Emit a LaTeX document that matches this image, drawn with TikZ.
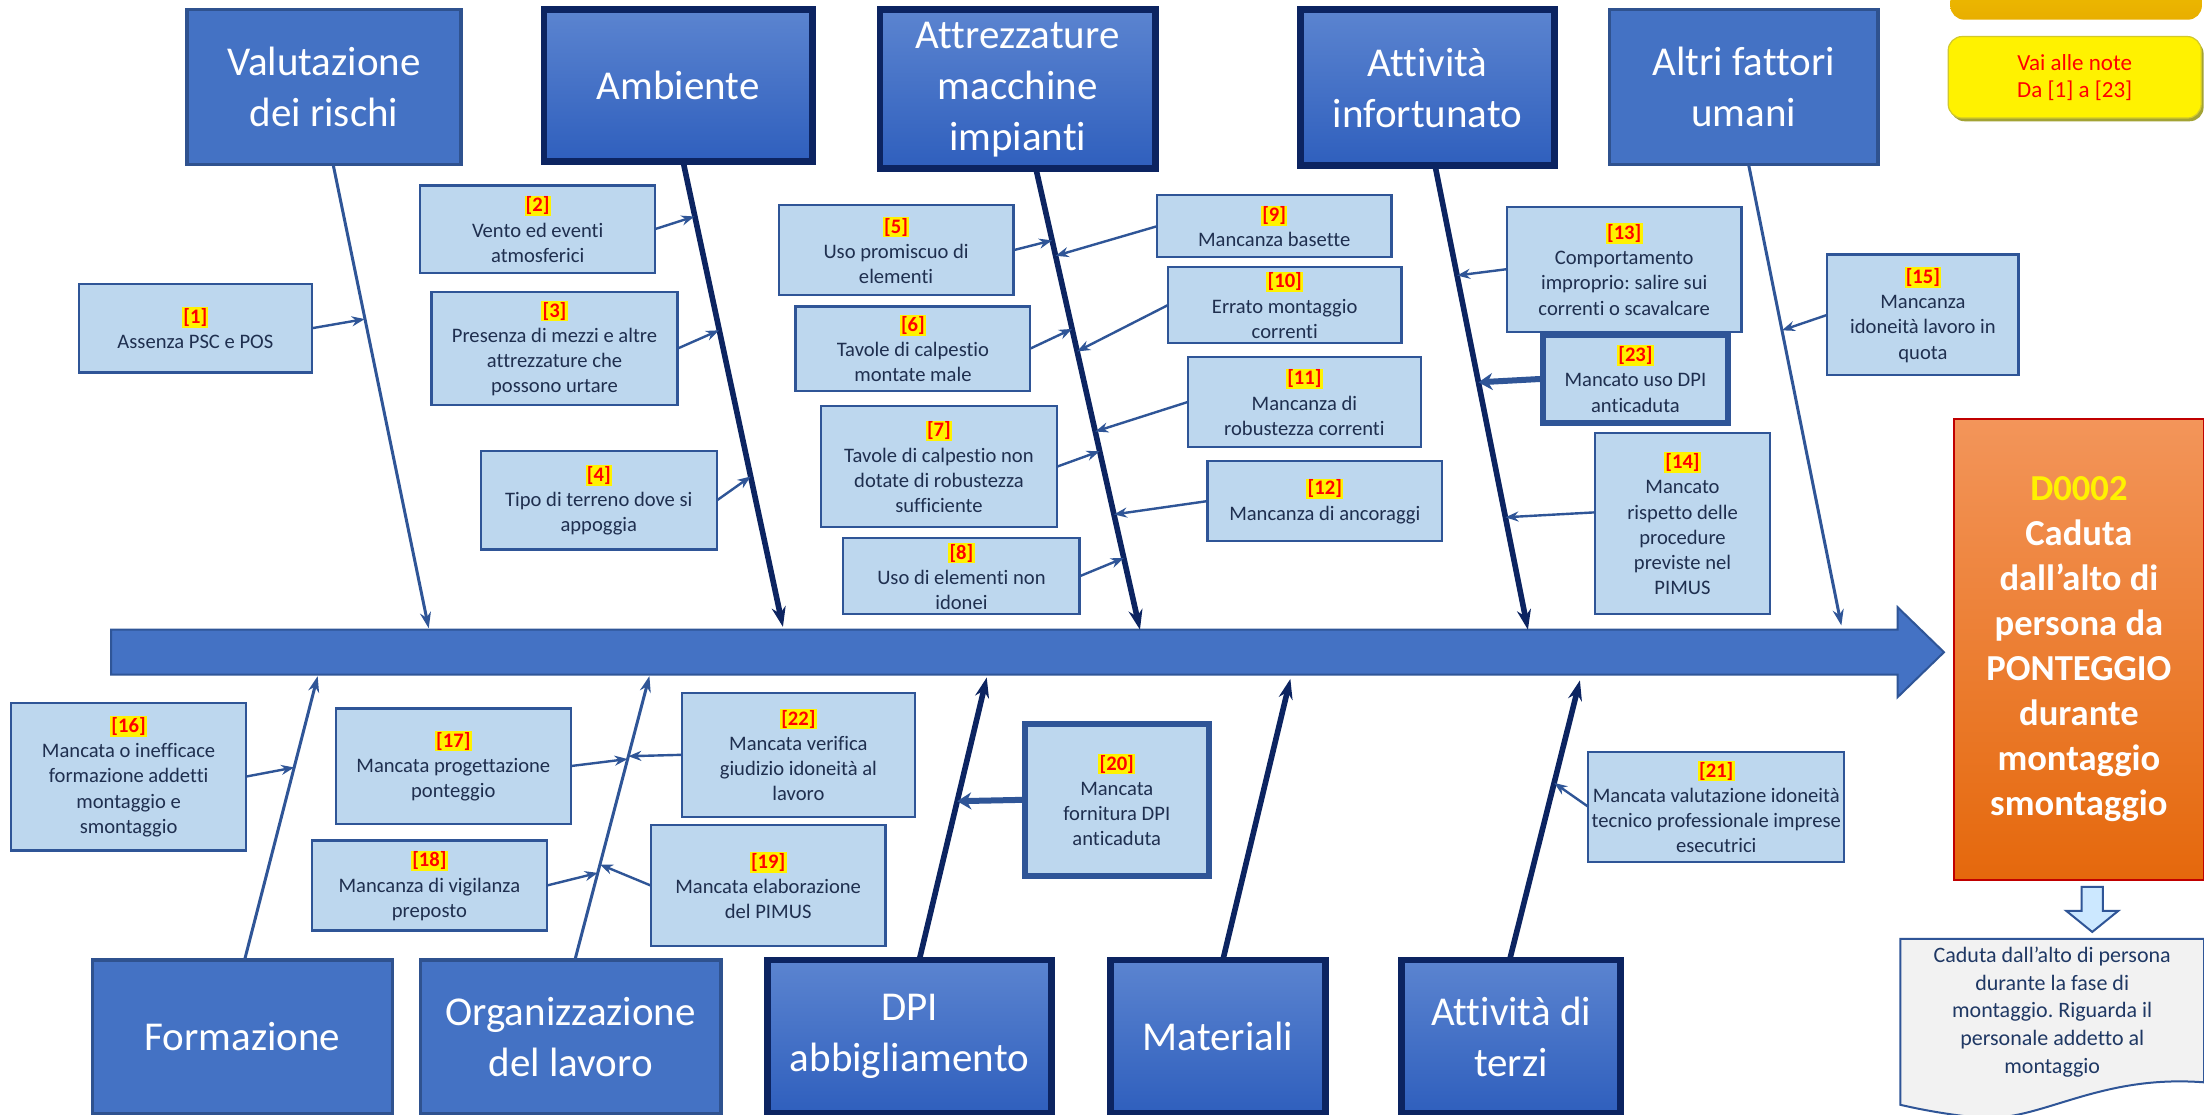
\documentclass[tikz,border=0pt]{standalone}
\usepackage{fontspec}
\setmainfont{Carlito}[Ligatures=NoCommon]
\frenchspacing
\usetikzlibrary{arrows.meta,calc,shadows}

\definecolor{catfill}{HTML}{4472C4}
\definecolor{catdraw}{HTML}{2F528F}
\definecolor{navy}{HTML}{0C2461}
\definecolor{gradtop}{HTML}{5B84D0}
\definecolor{gradbot}{HTML}{2F5FBD}
\definecolor{cfill}{HTML}{BDD7EE}
\definecolor{cdraw}{HTML}{2F5597}
\definecolor{ctext}{HTML}{1F2F4F}
\definecolor{orgtop}{HTML}{F3955A}
\definecolor{orgbot}{HTML}{E5680C}
\definecolor{orgdraw}{HTML}{C00000}
\definecolor{docfill}{HTML}{F2F2F2}
\definecolor{doctext}{HTML}{1F3864}
\definecolor{arrfill}{HTML}{CCE8FF}
\definecolor{goldtop}{HTML}{F2C300}
\definecolor{goldbot}{HTML}{E8AE00}
\definecolor{btnshadow}{HTML}{8C8C00}

\tikzset{
 cat/.style={draw=catdraw, line width=1.6pt, fill=catfill, text=white, align=center,
   inner sep=0pt, outer sep=0pt, font=\fontsize{20.5}{25.5}\selectfont},
 catstrong/.style={cat, draw=navy, line width=3.4pt, top color=gradtop, bottom color=gradbot},
 cause/.style={draw=cdraw, line width=1.1pt, fill=cfill, text=ctext, align=center,
   inner sep=0pt, outer sep=0pt, font=\fontsize{10.3}{12.6}\selectfont},
 causestrong/.style={cause, line width=3pt},
 bonethin/.style={draw=cdraw, line width=1.5pt, -{Stealth[length=8pt,width=5.5pt]}},
 bonethick/.style={draw=navy, line width=2.8pt, -{Stealth[length=10pt,width=7pt]}},
 carrow/.style={draw=cdraw, line width=1.2pt, -{Stealth[length=6.5pt,width=5pt]}},
 carrowthick/.style={draw=cdraw, line width=3pt, -{Stealth[length=7pt,width=8.5pt]}},
}

\newcommand{\mycat}[7][cat]{\node[#1,minimum width={(#5-#3)*0.7028pt},minimum height={(#6-#4)*0.7028pt}] (#2) at ({(#3+#5)/2},{(#4+#6)/2}) {#7};}
\newcommand{\mycause}[7][cause]{\node[#1,minimum width={(#5-#3)*0.7028pt},minimum height={(#6-#4)*0.7028pt}] (#2) at ({(#3+#5)/2},{(#4+#6)/2}) {#7};}
\newcommand{\lab}[1]{{\setlength{\fboxsep}{0.6pt}\colorbox{yellow}{\textcolor{red}{\bfseries[#1]}}}}

\begin{document}
\begin{tikzpicture}[x=0.7028pt,y=-0.7028pt]
\useasboundingbox (0,0) rectangle (1568,793);
\fill[white] (0,0) rectangle (1568,793);

% spine
\draw[draw=cdraw, line width=1pt, fill=catfill] (79,448) -- (1350,448) -- (1350,432) -- (1383,464) -- (1350,496) -- (1350,480) -- (79,480) -- cycle;

% category boxes
\mycat[cat]{vr}{133}{7}{328}{117}{Valutazione\\dei rischi}
\mycat[catstrong]{amb}{387}{7}{578}{115}{Ambiente}
\mycat[catstrong]{att}{626}{7}{822}{120}{Attrezzature\\macchine\\impianti}
\mycat[catstrong]{ain}{925}{7}{1106}{118}{Attività\\infortunato}
\mycat[cat]{alt}{1145}{7}{1336}{117}{Altri fattori\\umani}
\mycat[cat]{for}{66}{683}{279}{792}{Formazione}
\mycat[cat]{org}{299}{683}{513}{792}{Organizzazione\\del lavoro}
\mycat[catstrong]{dpi}{546}{683}{748}{792}{DPI\\abbigliamento}
\mycat[catstrong]{mat}{790}{683}{943}{792}{Materiali}
\mycat[catstrong]{ter}{997}{683}{1153}{792}{Attività di\\terzi}

% bone end points on the spine
\coordinate (e1) at (305,447);
\coordinate (e2) at (557,446);
\coordinate (e3) at (811,448);
\coordinate (e4) at (1087,448);
\coordinate (e5) at (1310,445);
\coordinate (e6) at (226,481);
\coordinate (e7) at (462,481);
\coordinate (e8) at (702,482);
\coordinate (e9) at (918,483);
\coordinate (e10) at (1124,484);

% bones
\draw[bonethin] ($(vr.south)+(6.5,0)$) -- (e1);
\draw[bonethick] ($(amb.south)+(3.5,0)$) -- (e2);
\draw[bonethick] ($(att.south)+(13,0)$) -- (e3);
\draw[bonethick] ($(ain.south)+(5.5,0)$) -- (e4);
\draw[bonethin] ($(alt.south)+(3.5,0)$) -- (e5);
\draw[bonethin] ($(for.north)+(1.5,0)$) -- (e6);
\draw[bonethin] ($(org.north)+(3,0)$) -- (e7);
\draw[bonethick] ($(dpi.north)+(7,0)$) -- (e8);
\draw[bonethick] ($(mat.north)+(3.5,0)$) -- (e9);
\draw[bonethick] ($(ter.north)+(-1,0)$) -- (e10);

% cause boxes
\mycause{c1}{56}{202}{222}{265}{\lab{1}\\Assenza PSC e POS}
\mycause{c2}{299}{132}{466}{194}{\lab{2}\\Vento ed eventi\\atmosferici}
\mycause{c3}{307}{208}{482}{288}{\lab{3}\\Presenza di mezzi e altre\\attrezzature che\\possono urtare}
\mycause{c4}{342}{321}{510}{391}{\lab{4}\\Tipo di terreno dove si\\appoggia}
\mycause{c5}{554}{146}{721}{210}{\lab{5}\\Uso promiscuo di\\elementi}
\mycause{c6}{566}{218}{733}{278}{\lab{6}\\Tavole di calpestio\\montate male}
\mycause{c7}{584}{289}{752}{375}{\lab{7}\\Tavole di calpestio non\\dotate di robustezza\\sufficiente}
\mycause{c8}{600}{383}{768}{437}{\lab{8}\\Uso di elementi non\\idonei}
\mycause{c9}{823}{139}{990}{183}{\lab{9}\\Mancanza basette}
\mycause{c10}{831}{190}{997}{244}{\lab{10}\\Errato montaggio\\correnti}
\mycause{c11}{845}{254}{1011}{318}{\lab{11}\\Mancanza di\\robustezza correnti}
\mycause{c12}{859}{328}{1026}{385}{\lab{12}\\Mancanza di ancoraggi}
\mycause{c13}{1072}{147}{1239}{236}{\lab{13}\\Comportamento\\improprio: salire sui\\correnti o scavalcare}
\mycause[causestrong]{c23}{1098}{238}{1229}{301}{\lab{23}\\Mancato uso DPI\\anticaduta}
\mycause{c14}{1135}{308}{1259}{437}{\lab{14}\\Mancato\\rispetto delle\\procedure\\previste nel\\PIMUS}
\mycause{c15}{1300}{181}{1436}{267}{\lab{15}\\Mancanza\\idoneità lavoro in\\quota}
\mycause{c16}{8}{500}{175}{605}{\lab{16}\\Mancata o inefficace\\formazione addetti\\montaggio e\\smontaggio}
\mycause{c17}{239}{504}{406}{586}{\lab{17}\\Mancata progettazione\\ponteggio}
\mycause{c22}{485}{493}{651}{581}{\lab{22}\\Mancata verifica\\giudizio idoneità al\\lavoro}
\mycause{c18}{222}{598}{389}{662}{\lab{18}\\Mancanza di vigilanza\\preposto}
\mycause{c19}{463}{587}{630}{673}{\lab{19}\\Mancata elaborazione\\del PIMUS}
\mycause[causestrong]{c20}{729}{515}{860}{623}{\lab{20}\\Mancata\\fornitura DPI\\anticaduta}
\mycause{c21}{1130}{535}{1312}{613}{\lab{21}\\Mancata valutazione idoneità\\tecnico professionale imprese\\esecutrici}

% arrow tips on the bones
\coordinate (t1) at (259.5,227);
\coordinate (t2) at (494,154);
\coordinate (t3) at (511.5,235);
\coordinate (t4) at (534,339);
\coordinate (t5) at (748.5,171);
\coordinate (t6) at (762.7,234);
\coordinate (t7) at (782.3,321);
\coordinate (t8) at (799.5,397);
\coordinate (t9) at (751,182);
\coordinate (t10) at (766.3,250);
\coordinate (t11) at (779.2,307);
\coordinate (t12) at (792.5,366);
\coordinate (t13) at (1036.6,196);
\coordinate (t23) at (1051.8,272);
\coordinate (t14) at (1071,368);
\coordinate (t15) at (1267.7,235);
\coordinate (t16) at (209.3,546);
\coordinate (t17) at (446.5,540);
\coordinate (t22) at (447,538);
\coordinate (t18) at (425.3,621);
\coordinate (t19) at (426.8,615);
\coordinate (t20) at (681,570);
\coordinate (t21) at (1105.7,557);

\draw[carrow] (c1.east) -- (t1);
\draw[carrow] (c2.east) -- (t2);
\draw[carrow] (c3.east) -- (t3);
\draw[carrow] (c4.east) -- (t4);
\draw[carrow] (c5.east) -- (t5);
\draw[carrow] (c6.east) -- (t6);
\draw[carrow] (c7.east) -- (t7);
\draw[carrow] (c8.east) -- (t8);
\draw[carrow] (c9.west) -- (t9);
\draw[carrow] (c10.west) -- (t10);
\draw[carrow] (c11.west) -- (t11);
\draw[carrow] (c12.west) -- (t12);
\draw[carrow] (c13.west) -- (t13);
\draw[carrowthick] (c23.west) -- (t23);
\draw[carrow] ($(c14.west)+(0,-8)$) -- (t14);
\draw[carrow] (c15.west) -- (t15);
\draw[carrow] (c16.east) -- (t16);
\draw[carrow] (c17.east) -- (t17);
\draw[carrow] (c22.west) -- (t22);
\draw[carrow] (c18.east) -- (t18);
\draw[carrow] (c19.west) -- (t19);
\draw[carrowthick] (c20.west) -- (t20);
\draw[carrow] (c21.west) -- (t21);

% effect box
\node[draw=orgdraw, line width=1pt, top color=orgtop, bottom color=orgbot,
  minimum width={178*0.7028pt}, minimum height={328*0.7028pt}, inner sep=0pt,
  text=white, align=center, font=\bfseries\fontsize{18.3}{22.5}\selectfont] (eff) at (1479,462)
  {\textcolor{yellow}{D0002}\\Caduta\\dall’alto di\\persona da\\PONTEGGIO\\durante\\montaggio\\smontaggio};

% small block arrow
\draw[draw=cdraw, line width=1pt, fill=arrfill, line join=miter] (1481,631) -- (1496,631) -- (1496,648) -- (1507,648) -- (1488.5,663) -- (1470,648) -- (1481,648) -- cycle;

% document shape
\draw[draw=cdraw, line width=1pt, fill=docfill] (1352,668) -- (1568,668) -- (1568,770)
  .. controls (1490,764) and (1450,800) .. (1405,795)
  .. controls (1380,792) and (1365,789) .. (1352,786) -- cycle;
\node[text=doctext, align=center, font=\fontsize{11}{13.85}\selectfont] (doc) at (1460,720)
  {Caduta dall’alto di persona\\durante la fase di\\montaggio. Riguarda il\\personale addetto al\\montaggio};

% buttons top right
\node[rounded corners=7pt, top color=goldtop, bottom color=goldbot,
  minimum width={179*0.7028pt}, minimum height={40*0.7028pt}, inner sep=0pt] (gold) at (1477,-6) {};
\node[rounded corners=7pt, fill=yellow, draw=yellow!80!black, line width=0.6pt,
  drop shadow={shadow xshift=1.2pt, shadow yshift=-1.6pt, fill=btnshadow, opacity=0.8},
  minimum width={180*0.7028pt}, minimum height={58*0.7028pt}, inner sep=0pt,
  text=red, align=center, font=\fontsize{11.5}{13.4}\selectfont] (note) at (1476,55)
  {Vai alle note\\Da [1] a [23]};
\end{tikzpicture}
\end{document}
